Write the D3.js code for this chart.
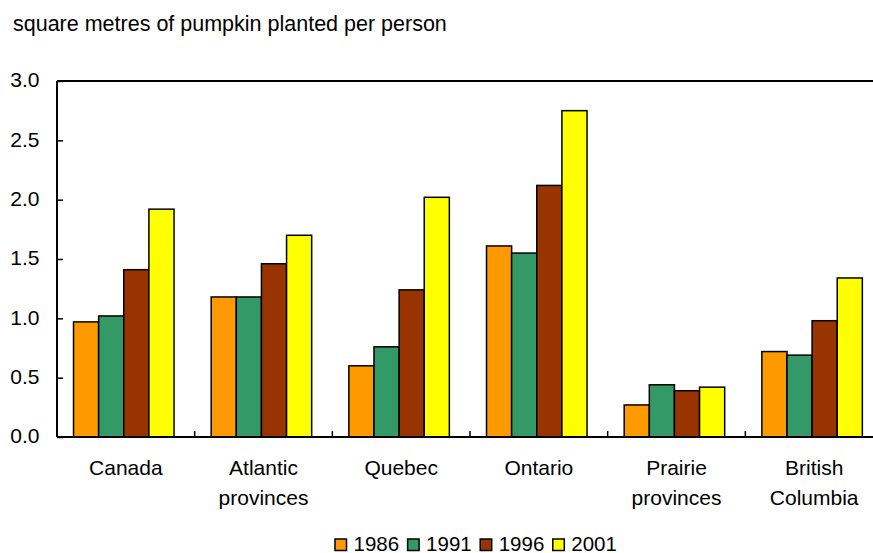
<!DOCTYPE html>
<html>
<head>
<meta charset="utf-8">
<script src="https://cdn.jsdelivr.net/npm/d3@7"></script>
<style>
  body { margin: 0; background: #fff; }
  text { font-family: "Liberation Sans", Arial, sans-serif; fill: #000; }
</style>
</head>
<body>
<div id="chart"></div>
<script>
const regions = [["Canada"], ["Atlantic", "provinces"], ["Quebec"], ["Ontario"], ["Prairie", "provinces"], ["British", "Columbia"]];
const years = ["1986", "1991", "1996", "2001"];
const v1986 = [0.97, 1.18, 0.60, 1.61, 0.27, 0.72];
const v1991 = [1.02, 1.18, 0.76, 1.55, 0.44, 0.69];
const v1996 = [1.41, 1.46, 1.24, 2.12, 0.39, 0.98];
const v2001 = [1.92, 1.70, 2.02, 2.75, 0.42, 1.34];
const yTicks = [0, 0.5, 1, 1.5, 2, 2.5, 3];
const colors = ["#FF9900", "#339966", "#993300", "#FFFF00"];

const series = [v1986, v1991, v1996, v2001];
const names = regions.map(r => r.join(" "));

const width = 873, height = 553;
const margin = {top: 81, bottom: 116, left: 57};

const svg = d3.select("#chart").append("svg")
    .attr("width", width)
    .attr("height", height);

const x0 = d3.scaleBand()
    .domain(names)
    .range([margin.left, 883]);

const x1 = d3.scaleBand()
    .domain(years)
    .range([x0.bandwidth() * 0.12, x0.bandwidth() * 0.85]);

const y = d3.scaleLinear()
    .domain([0, 3])
    .range([height - margin.bottom, margin.top]);

// title
svg.append("text")
    .attr("x", 13)
    .attr("y", 31)
    .attr("font-size", 21.5)
    .text("square metres of pumpkin planted per person");

// bars
const groups = svg.selectAll(".grp")
    .data(names)
    .enter()
    .append("g")
    .attr("class", "grp")
    .attr("transform", d => `translate(${x0(d)},0)`);

groups.selectAll("rect")
    .data((d, i) => years.map((yr, j) => ({yr, v: series[j][i], c: colors[j]})))
    .enter()
    .append("rect")
    .attr("x", d => x1(d.yr))
    .attr("y", d => y(d.v))
    .attr("width", x1.bandwidth())
    .attr("height", d => y(0) - y(d.v))
    .attr("fill", d => d.c)
    .attr("stroke", "#000")
    .attr("stroke-width", 1.5);

// y axis
const yAxis = svg.append("g")
    .attr("transform", `translate(${margin.left},0)`)
    .call(d3.axisRight(y).tickValues(yTicks).tickSize(6).tickFormat(d3.format(".1f")));
yAxis.select(".domain").remove();
yAxis.selectAll("line").attr("stroke", "#000").attr("stroke-width", 1.5);
yAxis.selectAll("text")
    .attr("x", -17.5)
    .attr("dy", "0.28em")
    .attr("text-anchor", "end")
    .attr("font-size", 21)
    .attr("font-family", "Liberation Sans, Arial, sans-serif");

// frame lines
svg.append("line")
    .attr("x1", margin.left).attr("x2", margin.left)
    .attr("y1", y(3)).attr("y2", y(0))
    .attr("stroke", "#000").attr("stroke-width", 2);
svg.append("line")
    .attr("x1", margin.left).attr("x2", width)
    .attr("y1", y(3)).attr("y2", y(3))
    .attr("stroke", "#000").attr("stroke-width", 2);
svg.append("line")
    .attr("x1", margin.left).attr("x2", width)
    .attr("y1", y(0)).attr("y2", y(0))
    .attr("stroke", "#000").attr("stroke-width", 2);

// x ticks at band boundaries
svg.selectAll(".xtick")
    .data(names.slice(1))
    .enter()
    .append("line")
    .attr("x1", d => x0(d)).attr("x2", d => x0(d))
    .attr("y1", y(0)).attr("y2", y(0) - 6)
    .attr("stroke", "#000").attr("stroke-width", 1.5);

// category labels
const labels = svg.selectAll(".xlab")
    .data(regions)
    .enter()
    .append("text")
    .attr("text-anchor", "middle")
    .attr("font-size", 21)
    .attr("transform", (d, i) => `translate(${x0(names[i]) + x0.bandwidth() / 2},${y(0) + 38})`);
labels.selectAll("tspan")
    .data(d => d)
    .enter()
    .append("tspan")
    .attr("x", 0)
    .attr("dy", (d, i) => i === 0 ? 0 : 30)
    .text(d => d);

// legend
const legend = svg.append("g").attr("transform", "translate(335,539)");
const item = legend.selectAll("g")
    .data(years)
    .enter()
    .append("g")
    .attr("transform", (d, i) => `translate(${i * 72.6},0)`);
item.append("rect")
    .attr("width", 11.5).attr("height", 11.5)
    .attr("fill", (d, i) => colors[i])
    .attr("stroke", "#000").attr("stroke-width", 1.5);
item.append("text")
    .attr("x", 18.5)
    .attr("y", 11.5)
    .attr("font-size", 20.5)
    .text(d => d);
</script>
</body>
</html>
